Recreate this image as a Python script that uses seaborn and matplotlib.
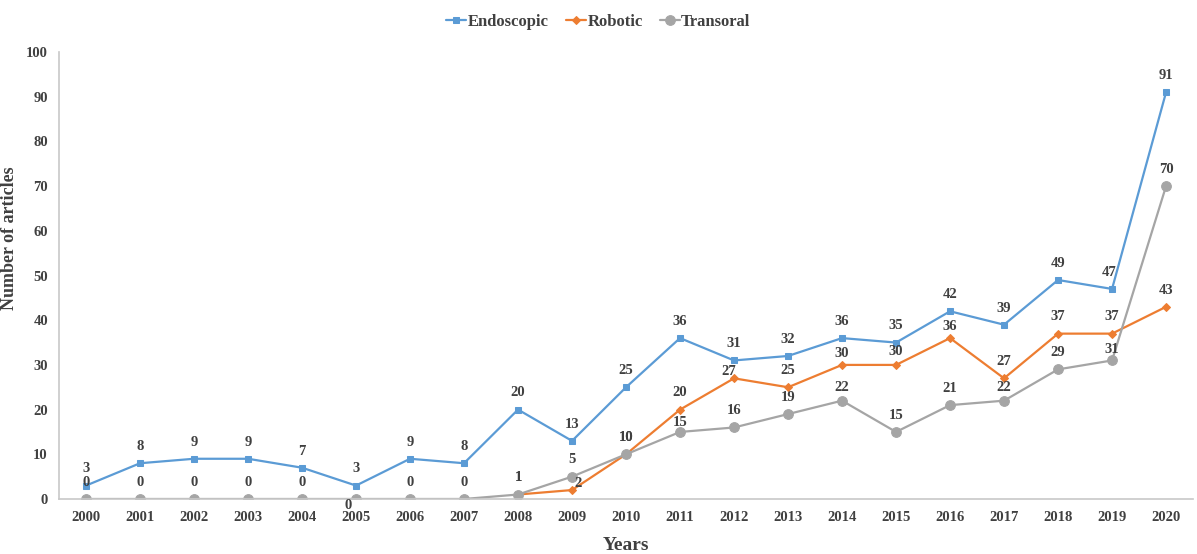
import matplotlib
matplotlib.use("Agg")
import matplotlib.pyplot as plt
import numpy as np
import pandas as pd
import seaborn as sns

# data (robotic has no points before 2008)
years = list(range(2000, 2021))
endoscopic = [3, 8, 9, 9, 7, 3, 9, 8, 20, 13, 25, 36, 31, 32, 36, 35, 42, 39, 49, 47, 91]
robotic = [None] * 8 + [1, 2, 10, 20, 27, 25, 30, 30, 36, 27, 37, 37, 43]
transoral = [0, 0, 0, 0, 0, 0, 0, 0, 1, 5, 10, 15, 16, 19, 22, 15, 21, 22, 29, 31, 70]

sns.set_style("white")
plt.rcParams['font.family'] = ['Liberation Serif', 'DejaVu Serif']
plt.rcParams['font.weight'] = 'bold'

text_color = '#404040'
axis_color = '#c8c8c8'

fig = plt.figure(figsize=(11.97, 5.54), dpi=100)
ax = fig.add_axes([0.0493, 0.0993, 0.9474, 0.8067])

series = [
    ("Endoscopic", endoscopic, '#5B9BD5', 's', 4),
    ("Robotic", robotic, '#ED7D31', 'D', 4.5),
    ("Transoral", transoral, '#A5A5A5', 'o', 7),
]

for name, vals, color, marker, ms in series:
    df = pd.DataFrame({"year": years, "n": vals}).dropna()
    sns.lineplot(data=df, x="year", y="n", ax=ax, color=color, marker=marker,
                 markersize=ms, markeredgecolor=color, linewidth=1.6, label=name,
                 legend=False)

# data labels: centred ~12pt above the point, a few moved like in the reference
nudges = {
    ("Transoral", 2005): (-6, -4.5),
    ("Robotic", 2009): (4.5, 5),
    ("Robotic", 2012): (-3.5, 5),
    ("Robotic", 2014): (0, 8),
    ("Robotic", 2015): (0, 9.5),
    ("Robotic", 2016): (0, 8),
    ("Endoscopic", 2019): (-2, 12),
    ("Transoral", 2011): (0, 7),
    ("Transoral", 2014): (0, 9.5),
    ("Transoral", 2017): (0, 9.5),
    ("Transoral", 2019): (0, 8),
}
for name, vals, color, marker, ms in series:
    for yr, v in zip(years, vals):
        if v is None:
            continue
        dx, dy = nudges.get((name, yr), (0, 12))
        ax.annotate(str(v), (yr, v), xytext=(dx, dy), textcoords='offset points',
                    ha='center', va='center', fontsize=10.5, color=text_color,
                    fontweight='bold')

ax.set_xlim(1999.5, 2020.5)
ax.set_ylim(0, 100)
ax.set_xticks(years)
ax.set_xticklabels([str(y) for y in years])
ax.set_yticks(np.arange(0, 101, 10))
ax.tick_params(axis='both', length=0, labelsize=10.5, colors=text_color)
ax.tick_params(axis='x', pad=9)
ax.tick_params(axis='y', pad=8)

for side in ['top', 'right']:
    ax.spines[side].set_visible(False)
for side in ['left', 'bottom']:
    ax.spines[side].set_color(axis_color)
    ax.spines[side].set_linewidth(1.2)

ax.set_xlabel("Years", fontsize=14, fontweight='bold', color=text_color, labelpad=9)
ax.set_ylabel("Number of articles", fontsize=13, fontweight='bold', color=text_color)
ax.yaxis.set_label_coords(-0.036, 0.584)

handles, labels = ax.get_legend_handles_labels()
fig.legend(handles, labels, loc='center', bbox_to_anchor=(0.5, 0.96), ncol=3,
           frameon=False, fontsize=12, handlelength=1.2, handletextpad=0.1,
           columnspacing=1.0, labelcolor=text_color)

fig.savefig("out.png", dpi=100)
